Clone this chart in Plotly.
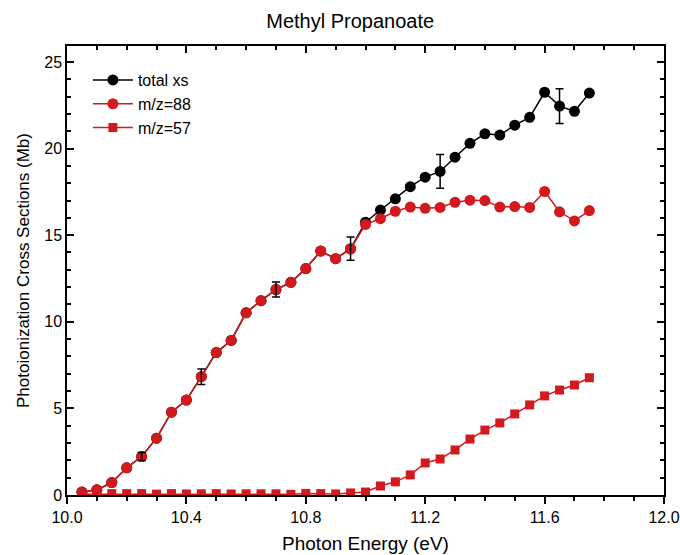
import plotly.graph_objects as go

# Photon energies (eV)
energy = [10.05, 10.10, 10.15, 10.20, 10.25, 10.30, 10.35, 10.40, 10.45, 10.50,
          10.55, 10.60, 10.65, 10.70, 10.75, 10.80, 10.85, 10.90, 10.95, 11.00,
          11.05, 11.10, 11.15, 11.20, 11.25, 11.30, 11.35, 11.40, 11.45, 11.50,
          11.55, 11.60, 11.65, 11.70, 11.75]

# Total photoionization cross section (Mb)
total_xs = [0.17, 0.30, 0.72, 1.57, 2.22, 3.28, 4.78, 5.48, 6.83, 8.22,
            8.92, 10.52, 11.22, 11.86, 12.28, 13.07, 14.08, 13.64, 14.22, 15.75,
            16.45, 17.10, 17.80, 18.35, 18.68, 19.50, 20.30, 20.85, 20.78, 21.35,
            21.80, 23.25, 22.45, 22.15, 23.20]

# Symmetric uncertainties on total_xs (0 where no bar is drawn)
total_err = [0, 0, 0, 0, 0.23, 0, 0, 0, 0.45, 0,
             0, 0, 0, 0.43, 0, 0, 0, 0, 0.67, 0,
             0, 0, 0, 0, 0.97, 0, 0, 0, 0, 0,
             0, 0, 1.0, 0, 0]

# Parent ion m/z = 88 partial cross section (Mb)
mz88 = [0.17, 0.30, 0.72, 1.57, 2.22, 3.28, 4.78, 5.48, 6.83, 8.22,
        8.92, 10.52, 11.22, 11.86, 12.28, 13.07, 14.08, 13.64, 14.20, 15.62,
        15.95, 16.38, 16.62, 16.55, 16.60, 16.90, 17.02, 17.00, 16.62, 16.65,
        16.60, 17.52, 16.35, 15.82, 16.42]

# Fragment ion m/z = 57 partial cross section (Mb)
mz57 = [0.05, 0.05, 0.08, 0.08, 0.08, 0.05, 0.08, 0.06, 0.07, 0.08,
        0.06, 0.07, 0.07, 0.07, 0.04, 0.09, 0.08, 0.06, 0.12, 0.17,
        0.52, 0.76, 1.16, 1.85, 2.08, 2.60, 3.23, 3.75, 4.16, 4.68,
        5.20, 5.72, 6.06, 6.35, 6.77]

x_ticks = [10.0, 10.4, 10.8, 11.2, 11.6, 12.0]
x_ticktext = ["10.0", "10.4", "10.8", "11.2", "11.6", "12.0"]
y_ticks = [0, 5, 10, 15, 20, 25]

RED = "#d2191e"
FONT = "Liberation Sans, Arial, sans-serif"

fig = go.Figure()

fig.add_trace(go.Scatter(
    x=energy, y=total_xs, name="total xs", mode="lines+markers",
    line=dict(color="black", width=1.5),
    marker=dict(symbol="circle", size=11, color="black"),
))
fig.add_trace(go.Scatter(
    x=energy, y=mz88, name="m/z=88", mode="lines+markers",
    line=dict(color=RED, width=1.5),
    marker=dict(symbol="circle", size=11, color=RED),
))
fig.add_trace(go.Scatter(
    x=energy, y=mz57, name="m/z=57", mode="lines+markers",
    line=dict(color=RED, width=1.5),
    marker=dict(symbol="square", size=9, color=RED),
))
# error bars of the total cross section, drawn above the red markers
fig.add_trace(go.Scatter(
    x=[e for e, s in zip(energy, total_err) if s > 0],
    y=[v for v, s in zip(total_xs, total_err) if s > 0],
    mode="markers", showlegend=False, hoverinfo="skip",
    marker=dict(size=1, color="rgba(0,0,0,0)"),
    error_y=dict(type="data",
                 array=[s for s in total_err if s > 0], visible=True,
                 color="black", thickness=1.5, width=4),
))

line_style = dict(
    showline=True, linecolor="black", linewidth=1.5,
    showgrid=False, zeroline=False, automargin=False,
    tickcolor="black", tickwidth=1.5,
)
tick_font = dict(family=FONT, size=16, color="black")

fig.update_layout(
    width=680, height=555,
    margin=dict(l=67, r=16, t=46, b=60),
    paper_bgcolor="white", plot_bgcolor="white",
    title=dict(text="Methyl Propanoate", x=0.515, xanchor="center",
               y=0.962, yanchor="middle",
               font=dict(family=FONT, size=20, color="black")),
    font=dict(family=FONT, color="black"),
    legend=dict(x=0.035, y=0.962, xanchor="left", yanchor="top",
                bgcolor="rgba(0,0,0,0)",
                font=dict(family=FONT, size=16, color="black"),
                itemwidth=40, tracegroupgap=0),
    # top edge: inward ticks, no labels
    xaxis=dict(
        side="top", range=[10.0, 12.0], tickvals=x_ticks,
        showticklabels=False, ticks="inside", ticklen=7, mirror=False,
        minor=dict(dtick=0.1, tick0=10.0, ticks="inside", ticklen=4,
                   tickcolor="black", tickwidth=1.5),
        **line_style,
    ),
    # bottom edge: outward ticks with labels and title
    xaxis2=dict(
        overlaying="x", anchor="y", side="bottom", range=[10.0, 12.0],
        tickvals=x_ticks, ticktext=x_ticktext, tickfont=tick_font,
        ticks="outside", ticklen=7,
        minor=dict(dtick=0.1, tick0=10.0, ticks="outside", ticklen=4,
                   tickcolor="black", tickwidth=1.5),
        title=dict(text="Photon Energy (eV)", standoff=12,
                   font=dict(family=FONT, size=19, color="black")),
        **line_style,
    ),
    yaxis=dict(
        range=[0, 25.92], tickvals=y_ticks,
        ticks="inside", ticklen=7, mirror="ticks", tickfont=tick_font,
        minor=dict(dtick=1, tick0=0, ticks="inside", ticklen=4,
                   tickcolor="black", tickwidth=1.5),
        title=dict(text="Photoionization Cross Sections (Mb)", standoff=10,
                   font=dict(family=FONT, size=17, color="black")),
        **line_style,
    ),
)

# invisible trace that activates the bottom axis
fig.add_trace(go.Scatter(x=[10.0, 12.0], y=[0, 0], xaxis="x2", yaxis="y",
                         mode="markers", marker=dict(opacity=0),
                         showlegend=False, hoverinfo="skip"))

fig.write_html("out.html")
